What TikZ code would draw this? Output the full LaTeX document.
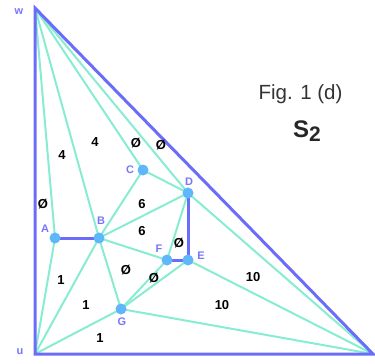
\documentclass[tikz,border=0pt]{standalone}
\usepackage{fontspec}
\setmainfont{Liberation Sans}
\usepackage{xcolor}
\usetikzlibrary{arrows.meta, positioning, calc}
\definecolor{edgeblue}{RGB}{108,108,250}
\definecolor{edgegreen}{RGB}{135,236,210}
\definecolor{dotblue}{RGB}{95,182,250}
\definecolor{lblblue}{RGB}{118,118,250}

\begin{document}
\begin{tikzpicture}[x=1pt, y=-1pt, every node/.style={inner sep=0pt},
                    gedge/.style={edgegreen, line width=2pt},
                    bedge/.style={edgeblue, line width=3pt, line cap=round},
                    vtx/.style={circle, fill=dotblue, minimum size=11pt},
                    vl/.style={font=\bfseries\fontsize{11}{13}\selectfont, lblblue},
                    wt/.style={font=\bfseries\fontsize{13}{15}\selectfont}]
  \useasboundingbox (0,0) rectangle (375,364);
  % corners and vertices
  \coordinate (w) at (35,8);
  \coordinate (u) at (35,354);
  \coordinate (v) at (373,354);
  \coordinate (A) at (55,238);
  \coordinate (B) at (99,238);
  \coordinate (C) at (143,170);
  \coordinate (D) at (188,193);
  \coordinate (E) at (188,260);
  \coordinate (F) at (167,260);
  \coordinate (G) at (121,309);
  % green edges
  \foreach \p in {A,B,C,D} \draw[gedge] (w) -- (\p);
  \foreach \p in {A,B,G} \draw[gedge] (u) -- (\p);
  \foreach \p in {D,E,G} \draw[gedge] (v) -- (\p);
  \draw[gedge] (B) -- (C) -- (D) -- (B) -- (F) -- (D);
  \draw[gedge] (B) -- (G) -- (F);
  \draw[gedge] (G) -- (E);
  % blue edges
  \draw[bedge] (u) -- (w) -- (v) -- cycle;
  \draw[bedge] (A) -- (B);
  \draw[bedge] (D) -- (E) -- (F);
  % dots
  \foreach \p in {A,B,C,D,E,F,G} \node[vtx] (d\p) at (\p) {};
  % vertex names
  \node[vl] (lw) at (19,12) {w};
  \node[vl] (lu) at (20,352) {u};
  \node[vl] (lA) at (45,229) {A};
  \node[vl] (lB) at (101,221) {B};
  \node[vl] (lC) at (130,170) {C};
  \node[vl] (lD) at (189,182) {D};
  \node[vl] (lE) at (201,256) {E};
  \node[vl] (lF) at (159,249) {F};
  \node[vl] (lG) at (122,322) {G};
  % weights
  \node[wt] (n4a) at (62,155) {4};
  \node[wt] (n4b) at (95,142) {4};
  \node[wt] (n0a) at (136,143) {Ø};
  \node[wt] (n0b) at (161,145) {Ø};
  \node[wt] (n0c) at (43,204) {Ø};
  \node[wt] (n6a) at (142,204) {6};
  \node[wt] (n6b) at (142,231) {6};
  \node[wt] (n0d) at (179,243) {Ø};
  \node[wt] (n0e) at (126,270) {Ø};
  \node[wt] (n0f) at (154,278) {Ø};
  \node[wt] (n1a) at (61,280) {1};
  \node[wt] (n1b) at (86,305) {1};
  \node[wt] (n1c) at (100,338) {1};
  \node[wt] (n10a) at (253,277) {10};
  \node[wt] (n10b) at (222,305) {10};
  % caption
  \node[font=\fontsize{20.5}{24}\selectfont, text=black!80] (cap) at (300.5,94) {Fig. 1 (d)};
  \node[font=\bfseries\fontsize{24}{28}\selectfont, text=black!85] (sname) at (307,131)
       {S\raisebox{-4.5pt}{\fontsize{21}{24}\selectfont 2}};
\end{tikzpicture}
\end{document}
